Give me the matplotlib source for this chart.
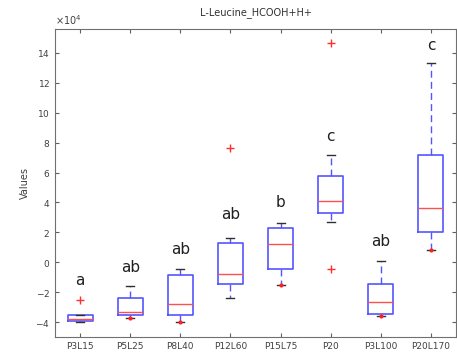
import numpy as np
import matplotlib.pyplot as plt
from matplotlib.ticker import ScalarFormatter

# group names and box statistics (values in units of 1e4)
groups = ['P3L15', 'P5L25', 'P8L40', 'P12L60', 'P15L75', 'P20', 'P3L100', 'P20L170']
q1 = [-3.95, -3.50, -3.50, -1.45, -0.44, 3.30, -3.43, 2.03]
med = [-3.79, -3.35, -2.79, -0.76, 1.25, 4.08, -2.68, 3.64]
q3 = [-3.50, -2.38, -0.87, 1.30, 2.30, 5.76, -1.45, 7.14]
whislo = [-4.00, -3.72, -3.99, -2.38, -1.49, 2.70, -3.60, 0.85]
whishi = [-3.50, -1.56, -0.44, 1.63, 2.64, 7.14, 0.07, 13.30]
outliers = [[-2.50], [], [], [7.66], [], [14.65, -0.44], [], []]
# small red dots sitting on the lower whisker caps
low_dots = [None, -3.72, -3.99, None, -1.49, None, -3.60, 0.85]
letters = ['a', 'ab', 'ab', 'ab', 'b', 'c', 'ab', 'c']
letter_y = [-1.2, -0.35, 0.85, 3.2, 4.0, 8.43, 1.4, 14.5]

scale = 1e4
stats = []
for i in range(len(groups)):
    stats.append(dict(med=med[i] * scale, q1=q1[i] * scale, q3=q3[i] * scale,
                      whislo=whislo[i] * scale, whishi=whishi[i] * scale,
                      fliers=np.array(outliers[i]) * scale, label=groups[i]))

fig = plt.figure(figsize=(4.57, 3.64), dpi=100)
ax = fig.add_axes([55 / 457, 27 / 364, 401 / 457, 308 / 364])

pos = np.arange(1, len(groups) + 1)
ax.bxp(stats, positions=pos, widths=0.5, capwidths=0.16,
       boxprops=dict(color='#5555ff', linewidth=1.2),
       medianprops=dict(color='#ff5050', linewidth=1.0),
       whiskerprops=dict(color='#5555ff', linewidth=1.0, linestyle=(0, (5, 3))),
       capprops=dict(color='#303030', linewidth=1.0),
       flierprops=dict(marker='+', markeredgecolor='#ff3030', markersize=6, linestyle='none'))

for i, d in enumerate(low_dots):
    if d is not None:
        ax.plot(pos[i], d * scale, '.', color='#ff2020', markersize=4)

for i, t in enumerate(letters):
    ax.text(pos[i], letter_y[i] * scale, t, ha='center', va='center', fontsize=11, color='#202020')

ax.set_xlim(0.5, 8.5)
ax.set_ylim(-5.0 * scale, 15.6 * scale)
ax.set_yticks(np.arange(-4, 15, 2) * scale)
fmt = ScalarFormatter(useMathText=True)
fmt.set_powerlimits((4, 4))
ax.yaxis.set_major_formatter(fmt)
ax.yaxis.get_offset_text().set_fontsize(7)
ax.yaxis.get_offset_text().set_color('#404040')

ax.tick_params(direction='in', length=3, labelsize=6.5, labelcolor='#404040',
               color='#606060', top=True, right=True)
for s in ax.spines.values():
    s.set_color('#707070')

ax.set_ylabel('Values', fontsize=7, color='#404040')
ax.set_title('L-Leucine_HCOOH+H+', fontsize=7, color='#303030', pad=10)

plt.savefig('out.png', dpi=100)
